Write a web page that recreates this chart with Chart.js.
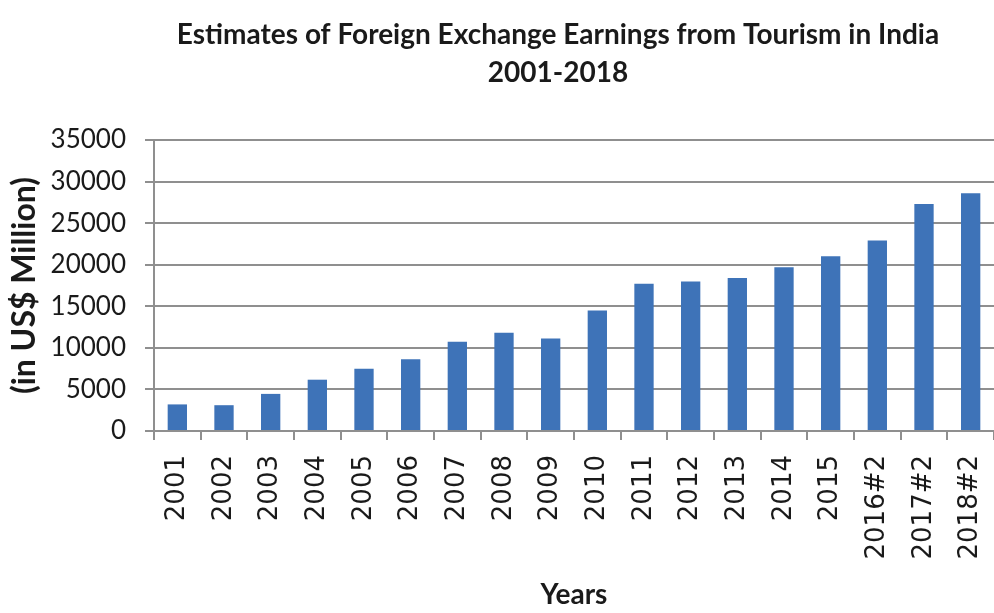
<!DOCTYPE html>
<html>
<head>
<meta charset="utf-8">
<script src="https://cdn.jsdelivr.net/npm/chart.js@4/dist/chart.umd.min.js"></script>
<style>
  html, body { margin: 0; padding: 0; background: #ffffff; overflow: hidden; }
  #wrap { width: 994px; height: 613px; position: relative; }
</style>
</head>
<body>
<div id="wrap"><canvas id="c" width="994" height="613"></canvas></div>
<script>
// Foreign exchange earnings from tourism in India (US$ million)
const years = ['2001', '2002', '2003', '2004', '2005', '2006', '2007', '2008', '2009',
               '2010', '2011', '2012', '2013', '2014', '2015', '2016#2', '2017#2', '2018#2'];
const earnings = [3198, 3103, 4463, 6170, 7493, 8634, 10729, 11832, 11136,
                  14490, 17707, 17971, 18397, 19700, 21013, 22923, 27310, 28586];
const yTicks = [0, 5000, 10000, 15000, 20000, 25000, 30000, 35000];

const chartTitle = ['Estimates of Foreign Exchange Earnings from Tourism in India', '2001-2018'];
const yTitle = '(in US$ Million)';
const xTitle = 'Years';

const gridColor = '#8f8f8f';
const textColor = '#1a1a1a';

// Two-line heading, centred a little right of the canvas middle
const headingPlugin = {
  id: 'heading',
  afterDraw(chart) {
    const ctx = chart.ctx;
    ctx.save();
    ctx.fillStyle = textColor;
    ctx.font = 'bold 28px Lato';
    ctx.textAlign = 'center';
    ctx.textBaseline = 'middle';
    const cx = 558;
    chartTitle.forEach((line, i) => ctx.fillText(line, cx, 35 + i * 37.5));
    ctx.restore();
  }
};

new Chart(document.getElementById('c'), {
  type: 'bar',
  data: {
    labels: years,
    datasets: [{
      data: earnings,
      backgroundColor: '#3e73b8',
      borderWidth: 0,
      barPercentage: 0.414,
      categoryPercentage: 1.0
    }]
  },
  plugins: [headingPlugin],
  options: {
    responsive: false,
    animation: false,
    devicePixelRatio: 1,
    layout: { padding: { top: 140, left: 0, right: 0, bottom: 0 } },
    plugins: {
      legend: { display: false },
      tooltip: { enabled: false },
      title: { display: false }
    },
    scales: {
      x: {
        grid: {
          display: true,
          drawOnChartArea: false,
          drawTicks: true,
          tickLength: 9,
          color: gridColor,
          lineWidth: 2
        },
        border: { display: true, color: gridColor, width: 2 },
        ticks: {
          autoSkip: false,
          minRotation: 90,
          maxRotation: 90,
          padding: 15,
          color: textColor,
          font: { family: "'DejaVu Sans', sans-serif", size: 26 }
        },
        title: {
          display: true,
          text: xTitle,
          color: textColor,
          font: { family: 'Lato', weight: 'bold', size: 28, lineHeight: 1.2 },
          padding: { top: 0, bottom: 1 }
        },
        afterFit(scale) {
          scale.height = 182;
          scale.paddingLeft = 0;
          scale.paddingRight = 0;
        }
      },
      y: {
        min: 0,
        max: 35000,
        afterBuildTicks(scale) {
          scale.ticks = yTicks.map(v => ({ value: v }));
        },
        grid: {
          color: gridColor,
          lineWidth: 2,
          drawTicks: true,
          tickLength: 9
        },
        border: { display: true, color: gridColor, width: 2 },
        ticks: {
          padding: 19,
          color: textColor,
          font: { family: 'Lato', size: 26 },
          callback: v => String(v)
        },
        title: {
          display: true,
          text: yTitle,
          color: textColor,
          font: { family: 'Lato', weight: 'bold', size: 32, lineHeight: 1.2 },
          padding: { top: 5, bottom: 0 }
        },
        afterFit(scale) {
          scale.width = 154;
          scale.paddingTop = 0;
          scale.paddingBottom = 0;
        }
      }
    }
  }
});
</script>
</body>
</html>
